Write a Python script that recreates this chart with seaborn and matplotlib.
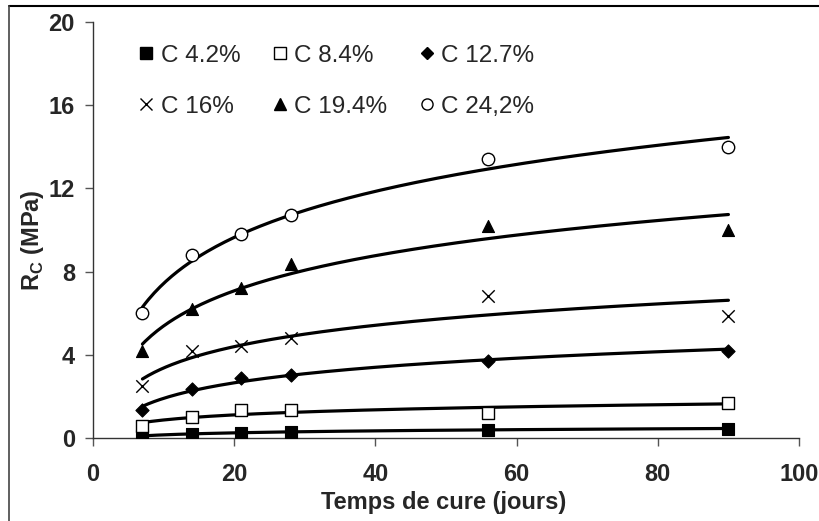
import matplotlib
matplotlib.use("Agg")
import matplotlib.pyplot as plt
from matplotlib.lines import Line2D
import numpy as np
import pandas as pd
import seaborn as sns

# curing time (days) and compressive strength Rc (MPa)
days = [7, 14, 21, 28, 56, 90]
labels = ["C 4.2%", "C 8.4%", "C 12.7%", "C 16%", "C 19.4%", "C 24,2%"]
rc_4_2 = [0.1, 0.2, 0.25, 0.3, 0.4, 0.45]
rc_8_4 = [0.6, 1.0, 1.35, 1.35, 1.2, 1.7]
rc_12_7 = [1.35, 2.35, 2.9, 3.05, 3.7, 4.2]
rc_16 = [2.5, 4.2, 4.4, 4.8, 6.85, 5.85]
rc_19_4 = [4.2, 6.2, 7.2, 8.35, 10.2, 10.0]
rc_24_2 = [6.0, 8.8, 9.8, 10.7, 13.4, 14.0]

series = [rc_4_2, rc_8_4, rc_12_7, rc_16, rc_19_4, rc_24_2]
markers = ["s", "s", "D", "x", "^", "o"]
filled = [True, False, True, True, True, False]
sizes = [70, 70, 45, 80, 75, 80]

rows = []
for lab, vals in zip(labels, series):
    for d, v in zip(days, vals):
        rows.append({"days": d, "rc": v, "mix": lab})
df = pd.DataFrame(rows)

sns.set_style("ticks")
plt.rcParams["font.family"] = ["Liberation Sans", "DejaVu Sans"]

fig = plt.figure(figsize=(8.19, 5.21), dpi=100)
ax = fig.add_axes([0.1136, 0.1593, 0.862, 0.7985])

# logarithmic trend lines (Excel style) fitted on the data
for lab, vals in zip(labels, series):
    b, a = np.polyfit(np.log(days), vals, 1)
    xs = np.linspace(days[0], days[-1], 200)
    fit = pd.DataFrame({"days": xs, "rc": a + b * np.log(xs)})
    sns.lineplot(data=fit, x="days", y="rc", color="black", lw=2.3, ax=ax, zorder=2)

handles = []
for lab, m, f, s in zip(labels, markers, filled, sizes):
    sub = df[df["mix"] == lab]
    if m == "x":
        kw = dict(color="black", linewidth=1.0)
    elif f:
        kw = dict(color="black", edgecolor="black", linewidth=0.8)
    else:
        kw = dict(facecolor="white", edgecolor="black", linewidth=1.0)
    sns.scatterplot(data=sub, x="days", y="rc", marker=m, s=s, ax=ax, zorder=3, **kw)
    handles.append(Line2D([], [], linestyle="none", marker=m, markersize=8 if m != "D" else 6,
                          markerfacecolor=("black" if f else "white"), markeredgecolor="black",
                          color="black", markeredgewidth=1.0, label=lab))

# legend: 3 columns, row-wise order
order = [0, 3, 1, 4, 2, 5]
ax.legend([handles[i] for i in order], [labels[i] for i in order], ncol=3,
          loc="upper left", bbox_to_anchor=(0.032, 0.998), frameon=False,
          prop={"size": 17.5},
          handlelength=0.7, handletextpad=0.25, columnspacing=1.27, labelspacing=1.2)

ax.set_xlim(0, 100)
ax.set_ylim(0, 20)
ax.set_xticks([0, 20, 40, 60, 80, 100])
ax.set_yticks([0, 4, 8, 12, 16, 20])
ax.tick_params(axis="both", direction="out", length=6, width=1, color="#555555",
               labelsize=17)
ax.tick_params(axis="x", pad=12)
ax.tick_params(axis="y", pad=7)
for t in ax.get_xticklabels() + ax.get_yticklabels():
    t.set_fontweight("bold")
ax.set_xlabel("Temps de cure (jours)", fontsize=17, fontweight="bold")
ax.set_ylabel("R$_\\mathregular{C}$ (MPa)", fontsize=17, fontweight="bold")
ax.xaxis.set_label_coords(0.496, -0.128)
ax.yaxis.set_label_coords(-0.066, 0.476)
for sp in ["top", "right"]:
    ax.spines[sp].set_visible(False)
for sp in ["left", "bottom"]:
    ax.spines[sp].set_color("#333333")
    ax.spines[sp].set_linewidth(1)

# outer frame (top and left edges visible in the reference)
fig.add_artist(Line2D([0.011, 1.0], [0.9885, 0.9885], transform=fig.transFigure,
                      color="black", lw=1.5))
fig.add_artist(Line2D([0.011, 0.011], [0.0, 0.9885], transform=fig.transFigure,
                      color="#444444", lw=1.2))

fig.savefig("out.png", dpi=100)
